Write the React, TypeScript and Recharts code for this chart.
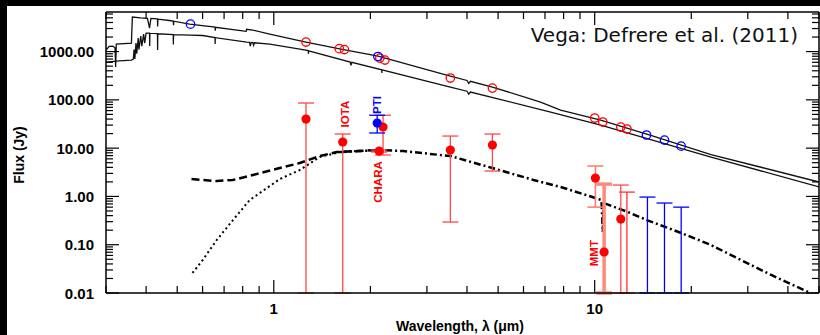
import React from 'react';
import { ComposedChart, Line, Scatter, XAxis, YAxis, ErrorBar } from 'recharts';

// ---------- data (wavelength in micron, flux in Jy) ----------
const upperModel: [number, number][] = [
  [0.30, 1074], [0.307, 1280], [0.315, 1300], [0.32, 1200], [0.3215, 478], [0.323, 1430],
  [0.36, 1500], [0.3625, 5180], [0.385, 5000], [0.404, 4900], [0.41, 3070], [0.414, 4850],
  [0.434, 4750], [0.4345, 3300], [0.4355, 4700], [0.473, 4400], [0.486, 4300], [0.487, 3500],
  [0.488, 4250], [0.5464, 3710], [0.656, 3200], [0.657, 2700], [0.658, 3180], [0.80, 2680],
  [0.82, 2620], [0.823, 2900], [0.86, 2780], [0.972, 2300], [1.259, 1574], [1.62, 1127],
  [2.113, 807], [3.548, 311], [4.0, 252], [4.05, 220], [4.1, 242], [4.8, 184], [6.78, 90],
  [7.83, 61.5], [10.44, 38.2], [14.96, 18.4], [23.04, 7.37], [33.0, 4.02], [50, 1.99],
];
const lowerModel: [number, number][] = [
  [0.30, 607], [0.33, 640], [0.36, 667], [0.365, 700], [0.367, 1100], [0.369, 700],
  [0.372, 1500], [0.374, 900], [0.378, 1900], [0.38, 1100], [0.385, 2100], [0.388, 1300],
  [0.393, 2300], [0.396, 1500], [0.40, 2400], [0.41, 2400], [0.4105, 1300], [0.411, 2400],
  [0.434, 2350], [0.4345, 1074], [0.435, 2340], [0.486, 2250], [0.4865, 1400], [0.487, 2240],
  [0.55, 2196], [0.60, 2150], [0.656, 1950], [0.6565, 1430], [0.657, 1940], [0.823, 1574],
  [0.84, 1560], [0.845, 1300], [0.85, 1550], [0.86, 1540], [0.865, 1350], [0.87, 1520],
  [0.972, 1430], [1.206, 1127], [1.28, 1050], [1.282, 900], [1.284, 1040], [1.73, 607],
  [1.74, 520], [1.75, 600], [2.17, 420], [2.172, 360], [2.174, 418], [3.548, 184],
  [4.0, 151], [4.05, 132], [4.1, 145], [7.29, 55.9], [10.44, 30.1], [23.04, 6.55], [50, 1.57],
];
const dustDashed: [number, number][] = [
  [0.554, 2.29], [0.664, 2.08], [0.745, 2.19], [0.86, 2.77], [1.044, 3.87], [1.205, 4.92],
  [1.39, 6.86], [1.57, 8.3], [1.82, 8.7], [2.0, 9.0],
];
const dustDotted: [number, number][] = [
  [0.558, 0.026], [0.6, 0.048], [0.664, 0.125], [0.745, 0.32], [0.841, 0.84], [1.044, 2.29],
  [1.205, 3.52], [1.39, 6.55], [1.61, 8.3], [1.8, 8.7],
];
const dustDashDot: [number, number][] = [
  [1.61, 8.3], [2.14, 9.14], [2.53, 8.7], [3.55, 6.86], [4.8, 3.87], [6.45, 2.19], [7.83, 1.57],
  [10.05, 0.93], [10.5, 0.84], [10.6, 0.183], [10.67, 0.73], [12.7, 0.475], [14.6, 0.32],
  [18.6, 0.175], [23.0, 0.099], [28.6, 0.048], [35.5, 0.0236], [46.3, 0.0105],
];
const photometryRed: [number, number][] = [
  [1.26, 1574], [1.6, 1150], [1.66, 1100], [2.14, 733], [2.22, 667], [3.55, 283], [4.8, 175],
  [10.0, 42], [10.6, 34.7], [12.06, 27.3], [12.6, 24.9],
];
const photometryBlue: [number, number][] = [
  [0.55, 3700], [2.11, 790], [14.5, 18.7], [16.5, 14.7], [18.6, 11.0],
];
// [wavelength, flux, lower bound, upper bound]
const excessRed: [number, number, number, number][] = [
  [1.26, 40, 0.01, 86], [1.64, 13.4, 0.01, 19.6], [2.19, 27.4, 7.2, 48], [2.13, 8.7, 8.3, 9.1],
  [3.55, 9.1, 0.295, 17.8], [4.8, 11.6, 3.36, 19.6], [12.06, 0.34, 0.01, 1.72],
];
const excessMMT: [number, number, number, number][] = [[10.05, 2.4, 0.6, 4.26]];
const excessMMTDeep: [number, number, number, number][] = [[10.7, 0.0706, 0.01, 1.8]];
const excessBlue: [number, number, number, number][] = [[2.1, 33, 20.6, 48]];
const upperLimitsRed: [number, number][] = [[12.6, 1.23]];
const upperLimitsBlue: [number, number][] = [[14.6, 0.97], [16.5, 0.73], [18.6, 0.60]];
const instrumentNames = ['IOTA', 'PTI', 'CHARA', 'MMT'];
const instrumentWl = [1.667, 2.1, 2.11, 9.93];
const instrumentFlux = [50.8, 78, 1.99, 0.067];
const instrumentColors = ['#ff0000', '#0000ff', '#ff0000', '#ff0000'];

const xMajorTicks = [1, 10];
const xTicks = [0.3, 0.4, 0.5, 0.6, 0.7, 0.8, 0.9, 1, 2, 3, 4, 5, 6, 7, 8, 9, 10, 20, 30, 40, 50];
const yMajorTicks = [0.01, 0.1, 1, 10, 100, 1000];
const yTicks = [
  0.01, 0.02, 0.03, 0.04, 0.05, 0.06, 0.07, 0.08, 0.09,
  0.1, 0.2, 0.3, 0.4, 0.5, 0.6, 0.7, 0.8, 0.9,
  1, 2, 3, 4, 5, 6, 7, 8, 9,
  10, 20, 30, 40, 50, 60, 70, 80, 90,
  100, 200, 300, 400, 500, 600, 700, 800, 900,
  1000, 2000, 3000, 4000, 5000, 6000,
];

// ---------- tables ----------
const toXY = (arr: [number, number][]) => arr.map(([x, y]) => ({ x, y }));
const toErr = (arr: [number, number, number, number][]) =>
  arr.map(([x, y, lo, hi]) => ({ x, y, err: [y - lo, hi - y] }));
const toLimit = (arr: [number, number][]) =>
  arr.map(([x, top]) => ({ x, y: top, err: [top - 0.01, 0] }));
const labelData = instrumentNames.map((name, i) => ({
  x: instrumentWl[i], y: instrumentFlux[i], name, color: instrumentColors[i],
}));

const isMajor = (v: number, majors: number[]) => majors.some((m) => Math.abs(m - v) / m < 1e-6);
const TICK_FONT = "'Liberation Sans', Arial, sans-serif";

const makeTick = (side: 'left' | 'right' | 'top' | 'bottom') => (props: any) => {
  const { x, y, payload } = props;
  const v = payload.value;
  const majors = side === 'left' || side === 'right' ? yMajorTicks : xMajorTicks;
  const major = isMajor(v, majors);
  const len = major ? 13 : 7;
  let line;
  if (side === 'left') line = <line x1={x} x2={x + len} y1={y} y2={y} stroke="#000" strokeWidth={1.2} />;
  else if (side === 'right') line = <line x1={x} x2={x - len} y1={y} y2={y} stroke="#000" strokeWidth={1.2} />;
  else if (side === 'top') line = <line x1={x} x2={x} y1={y} y2={y + len} stroke="#000" strokeWidth={1.2} />;
  else line = <line x1={x} x2={x} y1={y} y2={y - len} stroke="#000" strokeWidth={1.2} />;
  let label = null;
  if (major && side === 'left') {
    label = (
      <text x={x - 12} y={y + 5.5} textAnchor="end" fontFamily={TICK_FONT} fontWeight="bold" fontSize={15} fill="#000">
        {v.toFixed(2)}
      </text>
    );
  }
  if (major && side === 'bottom') {
    label = (
      <text x={x} y={y + 21} textAnchor="middle" fontFamily={TICK_FONT} fontWeight="bold" fontSize={15} fill="#000">
        {String(v)}
      </text>
    );
  }
  return (
    <g>
      {line}
      {label}
    </g>
  );
};

const openCircle = (color: string) => (p: any) => (
  <circle cx={p.cx} cy={p.cy} r={4.2} fill="none" stroke={color} strokeWidth={1.3} />
);
const filledCircle = (color: string) => (p: any) => <circle cx={p.cx} cy={p.cy} r={4.6} fill={color} />;
const noShape = () => <g />;
const labelShape = (p: any) => {
  const d = p.payload;
  return (
    <text
      x={p.cx}
      y={p.cy}
      transform={`rotate(-90 ${p.cx} ${p.cy})`}
      textAnchor="middle"
      dominantBaseline="central"
      fontFamily={TICK_FONT}
      fontWeight="bold"
      fontSize={11.5}
      fill={d.color}
    >
      {d.name}
    </text>
  );
};

const axisLine = { stroke: '#000', strokeWidth: 1.5 };

export default function App() {
  return (
    <div style={{ position: 'fixed', left: 0, top: 0, width: 820, height: 335, background: '#000', overflow: 'hidden' }}>
      <div style={{ position: 'absolute', left: 7, top: 6, width: 813, height: 329, background: '#fff' }} />
      <div style={{ position: 'absolute', left: 0, top: 0 }}>
        <ComposedChart width={820} height={335} margin={{ top: 11, right: 0, bottom: 41, left: 105 }}>
          <XAxis
            xAxisId={0} dataKey="x" type="number" scale="log" domain={[0.3, 50]} allowDataOverflow
            ticks={xTicks} interval={0} tickSize={0} tickMargin={0} tickLine={false}
            axisLine={axisLine} height={1} orientation="bottom" tick={makeTick('bottom')}
          />
          <XAxis
            xAxisId="top" dataKey="x" type="number" scale="log" domain={[0.3, 50]} allowDataOverflow
            ticks={xTicks} interval={0} tickSize={0} tickMargin={0} tickLine={false}
            axisLine={axisLine} height={1} orientation="top" tick={makeTick('top')}
          />
          <YAxis
            yAxisId={0} type="number" scale="log" domain={[0.01, 6600]} allowDataOverflow
            ticks={yTicks} interval={0} tickSize={0} tickMargin={0} tickLine={false}
            axisLine={axisLine} width={1} orientation="left" tick={makeTick('left')}
          />
          <YAxis
            yAxisId="right" type="number" scale="log" domain={[0.01, 6600]} allowDataOverflow
            ticks={yTicks} interval={0} tickSize={0} tickMargin={0} tickLine={false}
            axisLine={axisLine} width={1} orientation="right" tick={makeTick('right')}
          />

          <Line data={toXY(upperModel)} dataKey="y" stroke="#111" strokeWidth={1.3} dot={false} isAnimationActive={false} />
          <Line data={toXY(lowerModel)} dataKey="y" stroke="#111" strokeWidth={1.3} dot={false} isAnimationActive={false} />
          <Line data={toXY(dustDashed)} dataKey="y" stroke="#000" strokeWidth={2.5} strokeDasharray="8 4" dot={false} isAnimationActive={false} />
          <Line data={toXY(dustDotted)} dataKey="y" stroke="#000" strokeWidth={2} strokeDasharray="2 3" dot={false} isAnimationActive={false} />
          <Line data={toXY(dustDashDot)} dataKey="y" stroke="#000" strokeWidth={2.5} strokeDasharray="7 3 2 3" dot={false} isAnimationActive={false} />

          <Scatter data={toLimit(upperLimitsRed)} dataKey="y" shape={noShape} isAnimationActive={false}>
            <ErrorBar dataKey="err" direction="y" width={8} stroke="#ff3030" strokeWidth={1.3} />
          </Scatter>
          <Scatter data={toLimit(upperLimitsBlue)} dataKey="y" shape={noShape} isAnimationActive={false}>
            <ErrorBar dataKey="err" direction="y" width={8} stroke="#0000ff" strokeWidth={1.3} />
          </Scatter>
          <Scatter data={toErr(excessMMTDeep)} dataKey="y" shape={filledCircle('#ff0000')} isAnimationActive={false}>
            <ErrorBar dataKey="err" direction="y" width={8} stroke="#ff8a7a" strokeWidth={3.5} />
          </Scatter>
          <Scatter data={toErr(excessMMT)} dataKey="y" shape={filledCircle('#ff0000')} isAnimationActive={false}>
            <ErrorBar dataKey="err" direction="y" width={8} stroke="#ff7a6a" strokeWidth={1.5} />
          </Scatter>
          <Scatter data={toErr(excessRed)} dataKey="y" shape={filledCircle('#ff0000')} isAnimationActive={false}>
            <ErrorBar dataKey="err" direction="y" width={8} stroke="#ff4848" strokeWidth={1.3} />
          </Scatter>
          <Scatter data={toErr(excessBlue)} dataKey="y" shape={filledCircle('#0000ff')} isAnimationActive={false}>
            <ErrorBar dataKey="err" direction="y" width={8} stroke="#0000ff" strokeWidth={1.3} />
          </Scatter>
          <Scatter data={toXY(photometryRed)} dataKey="y" shape={openCircle('#ff0000')} isAnimationActive={false} />
          <Scatter data={toXY(photometryBlue)} dataKey="y" shape={openCircle('#0000ff')} isAnimationActive={false} />
          <Scatter data={labelData} dataKey="y" shape={labelShape} isAnimationActive={false} />
        </ComposedChart>
      </div>
      <svg width={820} height={335} style={{ position: 'absolute', left: 0, top: 0, pointerEvents: 'none' }}>
        <text x={798} y={42} textAnchor="end" fontFamily="'DejaVu Sans', sans-serif" fontSize={20} fill="#111">
          Vega: Defrere et al. (2011)
        </text>
        <text
          x={19} y={155} transform="rotate(-90 19 155)" textAnchor="middle" dominantBaseline="central"
          fontFamily={TICK_FONT} fontWeight="bold" fontSize={14} fill="#000"
        >
          Flux (Jy)
        </text>
        <text x={460} y={331} textAnchor="middle" fontFamily={TICK_FONT} fontWeight="bold" fontSize={14} fill="#000">
          Wavelength, λ (μm)
        </text>
      </svg>
    </div>
  );
}
